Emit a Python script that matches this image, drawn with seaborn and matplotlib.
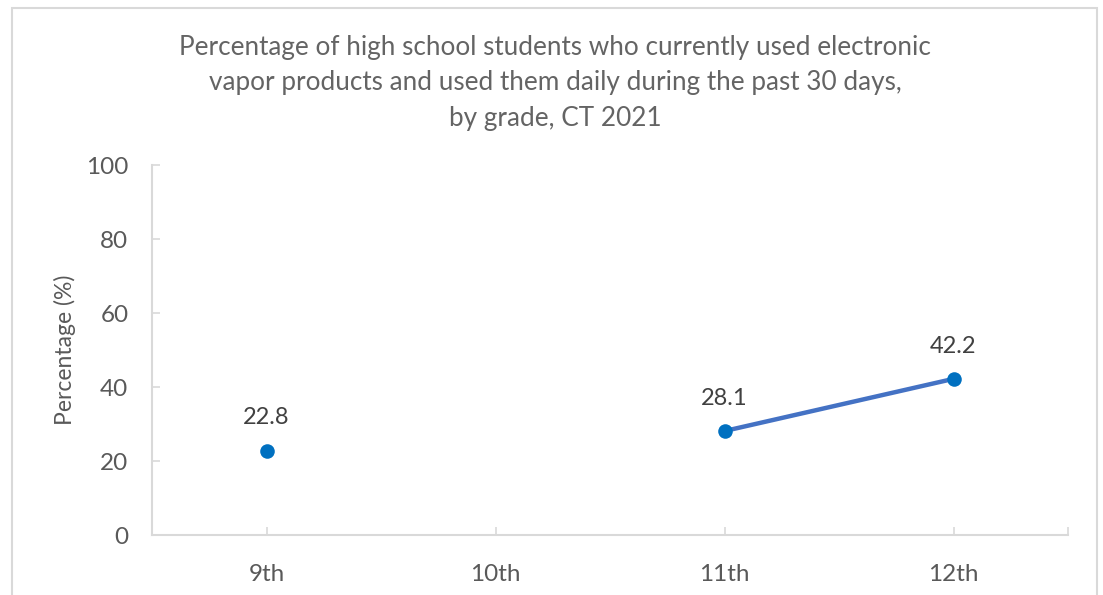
import numpy as np
import pandas as pd
import matplotlib
matplotlib.use("Agg")
import matplotlib.pyplot as plt
import seaborn as sns
from matplotlib.patches import Rectangle

grades = ["9th", "10th", "11th", "12th"]
daily_use_pct = [22.8, np.nan, 28.1, 42.2]
y_ticks = [0, 20, 40, 60, 80, 100]
title_text = ("Percentage of high school students who currently used electronic\n"
              "vapor products and used them daily during the past 30 days,\n"
              "by grade, CT 2021")
y_label = "Percentage (%)"

sns.set_theme(style="white")
plt.rcParams["font.family"] = ["Lato", "DejaVu Sans"]

TEXT = "#595959"
AXIS = "#D9D9D9"
LINE = "#4472C4"
MARK = "#0070C0"

df = pd.DataFrame({"grade": grades, "pct": daily_use_pct})
df["pos"] = np.arange(len(grades))
# break the line wherever a value is missing
df["segment"] = df["pct"].isna().cumsum()
valid = df.dropna(subset=["pct"])

fig = plt.figure(figsize=(11.03, 5.95), dpi=100)
fig.patches.append(Rectangle((12 / 1103, -0.1), (1097 - 12) / 1103, 1.1 - 8 / 595,
                             transform=fig.transFigure, fill=False,
                             edgecolor=AXIS, linewidth=1.5, zorder=0))
ax = fig.add_axes([152 / 1103, 1 - 535 / 595, (1068 - 152) / 1103, (535 - 165) / 595])

sns.lineplot(data=valid, x="pos", y="pct", units="segment", estimator=None,
             color=LINE, linewidth=3.2, ax=ax, legend=False, zorder=2)
sns.scatterplot(data=valid, x="pos", y="pct", color=MARK, s=110,
                edgecolor=MARK, linewidth=0, ax=ax, legend=False, zorder=3)

for _, r in valid.iterrows():
    ax.annotate(f"{r['pct']:.1f}", (r["pos"], r["pct"]), xytext=(0, 16),
                textcoords="offset points", ha="center", va="bottom",
                fontsize=17, color="#404040")

ax.set_xlim(-0.5, len(grades) - 0.5)
ax.set_ylim(0, 100)
ax.set_yticks(y_ticks)
ax.set_xticks(df["pos"])
ax.set_xticklabels(grades)
ax.set_xticks([len(grades) - 0.5], minor=True)

for side in ["top", "right"]:
    ax.spines[side].set_visible(False)
for side in ["left", "bottom"]:
    ax.spines[side].set_color(AXIS)
    ax.spines[side].set_linewidth(1.5)

ax.tick_params(axis="both", which="both", direction="in", length=6, width=1.2,
               color=AXIS, labelcolor=TEXT, labelsize=17.5)
ax.tick_params(axis="x", which="both", bottom=True, pad=21)
ax.tick_params(axis="y", left=True, pad=17)

ax.set_xlabel("")
ax.set_ylabel(y_label, color=TEXT, fontsize=16.5, labelpad=7)

fig.text(555 / 1103, 1 - 35 / 595, title_text, ha="center", va="top",
         fontsize=18.8, color="#646464", linespacing=1.52)

fig.savefig("out.png", dpi=100, facecolor="white")
